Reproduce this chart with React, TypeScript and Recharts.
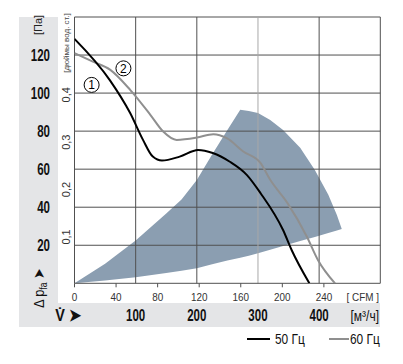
import {
  ComposedChart,
  Line,
  Area,
  XAxis,
  YAxis,
  ReferenceLine,
  ReferenceDot,
  Label
} from 'recharts';

const PA_TICKS = [20, 40, 60, 80, 100, 120];
const INCH_TICKS = [0.1, 0.2, 0.3, 0.4];
const CFM_TICKS = [0, 40, 80, 120, 160, 200, 240];
const M3H_TICKS = [100, 200, 300, 400];
const GRID_PA = [20, 40, 60, 80, 100, 120, 140];
const GRID_M3H = [0, 100, 200, 400, 500];

const PA_PER_INCH = 249.089;
const CFM_PER_M3H = 0.5886;

// curve 1, 50 Hz
const q50 = [0, 58, 91, 112, 128, 143, 172, 202, 226, 254, 282, 304, 341, 355, 384];
const p50 = [128.5, 106.7, 89.5, 75.4, 66.6, 64.5, 66.6, 70.1, 68.5, 63.9, 56.9, 47.5, 28, 17.5, 0];

// curve 2, 60 Hz
const q60 = [0, 30, 58, 91, 124, 145, 167, 200, 227, 249, 276, 304, 320, 348, 380, 398, 426];
const p60 = [121, 116.5, 112.3, 101.7, 88.6, 79.8, 75.4, 76.6, 78.4, 76.3, 69.3, 63.3, 54.4, 42.3, 24.5, 12.3, 0];

// operating zone
const zoneQ = [0, 50, 100, 150, 175, 200, 225, 250, 271, 285, 300, 320, 341, 369, 393, 415, 429, 437];
const zoneLow = [0, 1.5, 3.2, 5.4, 6.6, 7.9, 10, 12, 13.4, 14.5, 15.8, 17.7, 19.6, 22.3, 24.4, 26.5, 27.7, 28.5];
const zoneHigh = [0, 10.3, 22.5, 36.7, 44, 54.3, 67.7, 80.6, 91.2, 90.6, 89.5, 85.8, 80.6, 71.2, 59.6, 46.5, 35.9, 28.5];

const line50 = q50.map((q, i) => ({ q, p: p50[i] }));
const line60 = q60.map((q, i) => ({ q, p: p60[i] }));
const zone = zoneQ.map((q, i) => ({ q, lo: zoneLow[i], hi: zoneHigh[i] }));
// same 50 Hz curve in CFM / inch of water (invisible, keeps the secondary axes alive)
const line50Imp = q50.map((q, i) => ({ c: q * CFM_PER_M3H, i: p50[i] / PA_PER_INCH }));

const FONT = "'Liberation Sans', Arial, sans-serif";
const GRID = '#505050';

// narrow type like the catalogue's Helvetica Condensed
const Narrow = ({ x, y, sx = 0.76, anchor = 'middle', size = 16, fill = '#111', weight = 'normal', children }: any) => (
  <text
    transform={`translate(${x} ${y}) scale(${sx} 1)`}
    textAnchor={anchor}
    fontSize={size}
    fontFamily={FONT}
    fontWeight={weight}
    fill={fill}
  >
    {children}
  </text>
);

const PaTick = ({ y, payload }: any) => (
  <Narrow x={50} y={y + 5.5} anchor="end" sx={0.72} weight="bold">{payload.value}</Narrow>
);

const InchTick = ({ y, payload }: any) => (
  <text
    transform={`translate(70 ${y + 1}) rotate(-90)`}
    textAnchor="middle"
    fontSize={11}
    fontFamily={FONT}
    fill="#333"
  >
    {String(payload.value).replace('.', ',')}
  </text>
);

const CfmTick = ({ x, payload }: any) => (
  <Narrow x={x} y={301} size={11} sx={0.9} fill="#333">{payload.value}</Narrow>
);

const M3Tick = ({ x, payload }: any) => (
  <Narrow x={x} y={320.5} sx={0.72} weight="bold">{payload.value}</Narrow>
);

export default function App() {
  return (
    <div style={{ position: 'absolute', left: 0, top: 0, width: 403, height: 364, background: '#fff' }}>
      <div style={{ position: 'absolute', left: 19, top: 17, width: 39, height: 310, background: '#e4e5e7' }} />
      <div style={{ position: 'absolute', left: 58, top: 303, width: 322, height: 24, background: '#e4e5e7' }} />
      <div style={{ position: 'absolute', left: 0, top: 0 }}>
        <ComposedChart width={403} height={364} margin={{ top: 17, right: 22.7, left: 19.5, bottom: 59.7 }}>
          <XAxis
            xAxisId="m3"
            dataKey="q"
            type="number"
            domain={[0, 500]}
            ticks={M3H_TICKS}
            height={1}
            axisLine={false}
            tickLine={false}
            tick={M3Tick}
            interval={0}
            allowDataOverflow
          />
          <XAxis
            xAxisId="cfm"
            dataKey="c"
            type="number"
            domain={[0, 500 * CFM_PER_M3H]}
            ticks={CFM_TICKS}
            height={20}
            axisLine={false}
            tickSize={4}
            tickLine={{ stroke: GRID }}
            tick={CfmTick}
            interval={0}
            allowDataOverflow
          />
          <YAxis
            yAxisId="pa"
            domain={[0, 140]}
            ticks={PA_TICKS}
            width={54}
            axisLine={false}
            tickLine={false}
            tick={PaTick}
            interval={0}
            allowDataOverflow
          />
          <YAxis
            yAxisId="in"
            domain={[0, 140 / PA_PER_INCH]}
            ticks={INCH_TICKS}
            width={1}
            axisLine={false}
            tickLine={false}
            tick={InchTick}
            interval={0}
            allowDataOverflow
          />
          <Area
            xAxisId="m3"
            yAxisId="pa"
            data={zone}
            dataKey={(d: any) => [d.lo, d.hi]}
            type="linear"
            stroke="none"
            fill="#8b9eb1"
            fillOpacity={1}
            isAnimationActive={false}
          />
          {GRID_PA.map((v) => (
            <ReferenceLine key={'h' + v} xAxisId="m3" yAxisId="pa" y={v} stroke={GRID} strokeWidth={1} />
          ))}
          {GRID_M3H.map((v) => (
            <ReferenceLine key={'v' + v} xAxisId="m3" yAxisId="pa" x={v} stroke={GRID} strokeWidth={1} />
          ))}
          <ReferenceLine xAxisId="m3" yAxisId="pa" x={300} stroke="#a8a8a8" strokeWidth={1} />
          <ReferenceLine xAxisId="m3" yAxisId="pa" y={0} stroke={GRID} strokeWidth={1} />
          <Line
            xAxisId="cfm"
            yAxisId="in"
            data={line50Imp}
            dataKey="i"
            stroke="none"
            dot={false}
            activeDot={false}
            isAnimationActive={false}
          />
          <Line
            xAxisId="m3"
            yAxisId="pa"
            data={line60}
            dataKey="p"
            type="monotone"
            stroke="#8f8f8f"
            strokeWidth={2}
            dot={false}
            isAnimationActive={false}
          />
          <Line
            xAxisId="m3"
            yAxisId="pa"
            data={line50}
            dataKey="p"
            type="monotone"
            stroke="#000"
            strokeWidth={2}
            dot={false}
            isAnimationActive={false}
          />
          <ReferenceDot xAxisId="m3" yAxisId="pa" x={28} y={104.3} r={7.5} fill="#fff" stroke="#000" strokeWidth={1}>
            <Label value="1" position="center" fontSize={12} fontFamily={FONT} fill="#000" />
          </ReferenceDot>
          <ReferenceDot xAxisId="m3" yAxisId="pa" x={80} y={113} r={7.5} fill="#fff" stroke="#000" strokeWidth={1}>
            <Label value="2" position="center" fontSize={12} fontFamily={FONT} fill="#000" />
          </ReferenceDot>
        </ComposedChart>
      </div>
      <svg width={403} height={364} style={{ position: 'absolute', left: 0, top: 0, pointerEvents: 'none' }} fontFamily={FONT}>
        <text transform="translate(42 25) rotate(-90)" textAnchor="middle" fontSize={11} fill="#222">[Па]</text>
        <text transform="translate(69 43) rotate(-90)" textAnchor="middle" fontSize={8} fill="#444">[дюймы вод. ст.]</text>
        <text transform="translate(44 288) rotate(-90) scale(0.85 1)" textAnchor="middle" fontSize={15} fill="#111">
          Δ p<tspan fontSize={10} dy={3}>fa</tspan><tspan dy={-3}> ➤</tspan>
        </text>
        <Narrow x={68} y={321} size={17} sx={0.85} weight="bold">V̇ ➤</Narrow>
        <Narrow x={379} y={301} anchor="end" size={11} sx={0.9} fill="#333">[ CFM ]</Narrow>
        <Narrow x={379} y={320.5} anchor="end" size={15} sx={0.8}>[м³/ч]</Narrow>
        <line x1={247} y1={339} x2={270} y2={339} stroke="#000" strokeWidth={2} />
        <Narrow x={275} y={344} anchor="start" size={14} sx={0.85}>50 Гц</Narrow>
        <line x1={329} y1={339} x2={349} y2={339} stroke="#8f8f8f" strokeWidth={2} />
        <Narrow x={350} y={344} anchor="start" size={14} sx={0.85}>60 Гц</Narrow>
      </svg>
    </div>
  );
}
